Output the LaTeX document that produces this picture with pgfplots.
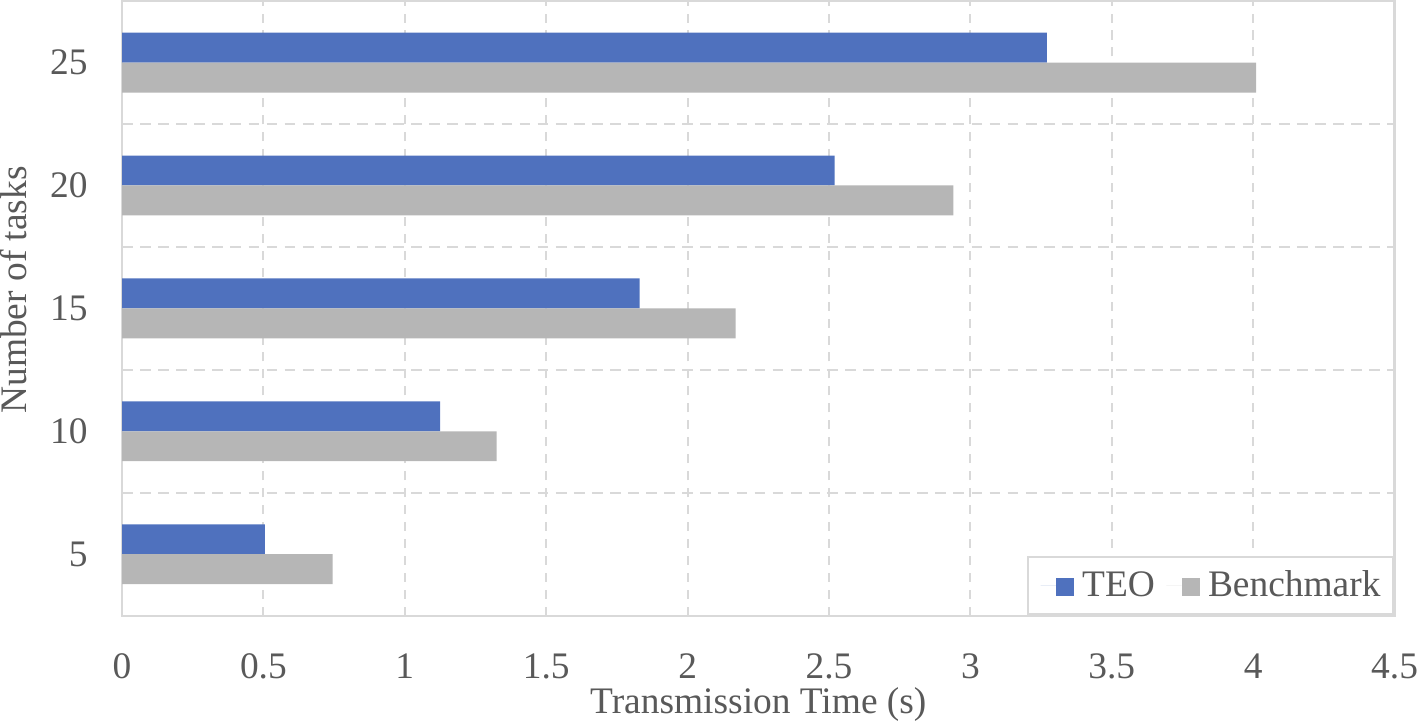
\documentclass[border=0pt]{standalone}
\usepackage{pgfplots}
\pgfplotsset{compat=1.18}
\usepackage{fontspec}
\setmainfont{Liberation Serif}

\definecolor{teo}{HTML}{4F71BE}
\definecolor{bench}{HTML}{B6B6B6}
\definecolor{txt}{HTML}{595959}
\definecolor{gridc}{HTML}{D9D9D9}

\begin{document}
\begin{tikzpicture}
\begin{axis}[
    scale only axis,
    width=450.6bp, height=217.6bp,
    xbar,
    xmin=0, xmax=4.5,
    ymin=2.5, ymax=27.5,
    xtick={0,0.5,...,4.5},
    xticklabels={0,0.5,1,1.5,2,2.5,3,3.5,4,4.5},
    ytick={5,10,15,20,25},
    minor ytick={7.5,12.5,17.5,22.5},
    xmajorgrids, yminorgrids,
    major grid style={gridc, line width=0.7bp, dash pattern=on 3.2bp off 2.8bp},
    minor grid style={gridc, line width=0.7bp, dash pattern=on 3.8bp off 2.6bp},
    axis line style={gridc, line width=0.8bp},
    major tick length=0pt, minor tick length=0pt,
    tick label style={font=\fontsize{13.3}{15}\selectfont, text=txt, inner sep=0pt},
    /pgf/number format/assume math mode=true,
    xticklabel style={yshift=-13.2bp},
    yticklabel style={xshift=-12bp},
    label style={font=\fontsize{13.3}{15}\selectfont, text=txt, inner sep=0pt},
    xlabel={Transmission Time (s)},
    ylabel={Number of tasks},
    xlabel style={at={(ticklabel cs:0.5,3bp)}},
    ylabel style={at={(ticklabel cs:0.53,8.1bp)}},
    bar width=10.6bp,
    legend style={at={(1,0)}, anchor=south east, draw=gridc, line width=0.8bp,
        font=\fontsize{13.3}{15}\selectfont, text=txt, legend columns=2,
        inner xsep=4.6bp, inner ysep=4.8bp,
        nodes={inner sep=0pt},
        /tikz/every odd column/.append style={column sep=2.8bp},
        /tikz/every even column/.append style={column sep=4.1bp}},
    legend image code/.code={
        \path (0bp,0bp) -- (5.4bp,0bp);
        \fill (5.4bp,-3.6bp) rectangle (11.9bp,2.9bp);},
]
\addplot[fill=teo, draw=none, bar shift=5.3bp] coordinates {
    (0.505,5) (1.125,10) (1.83,15) (2.52,20) (3.27,25)};
\addplot[fill=bench, draw=none, bar shift=-5.3bp] coordinates {
    (0.745,5) (1.325,10) (2.17,15) (2.94,20) (4.01,25)};
\legend{TEO, Benchmark}
\end{axis}
\end{tikzpicture}
\end{document}
